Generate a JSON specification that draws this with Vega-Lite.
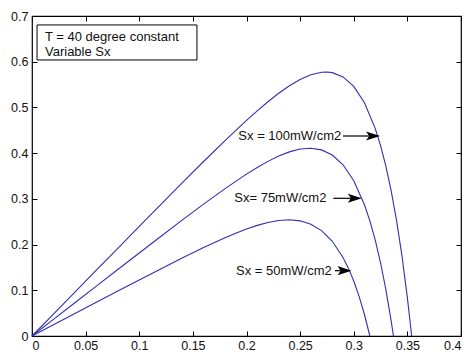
{
  "$schema": "https://vega.github.io/schema/vega-lite/v6.json",
  "width": 429,
  "height": 320,
  "autosize": "none",
  "padding": {"left": 32, "top": 16, "right": 5, "bottom": 16},
  "background": "white",
  "config": {
    "view": {"stroke": "#000", "strokeWidth": 1.2},
    "axis": {"domain": false, "grid": false, "tickColor": "#000", "tickSize": -5, "tickWidth": 1,
      "labelFont": "Liberation Sans", "labelFontSize": 12.5, "labelColor": "#111", "title": null}
  },
  "datasets": {
    "curves": [
      {"s": "100", "v": 0, "p": 0}, {"s": "100", "v": 0.02, "p": 0.048}, {"s": "100", "v": 0.04, "p": 0.096},
      {"s": "100", "v": 0.06, "p": 0.1439}, {"s": "100", "v": 0.08, "p": 0.1919}, {"s": "100", "v": 0.1, "p": 0.2397},
      {"s": "100", "v": 0.12, "p": 0.2874}, {"s": "100", "v": 0.14, "p": 0.3348}, {"s": "100", "v": 0.16, "p": 0.3817},
      {"s": "100", "v": 0.18, "p": 0.4276}, {"s": "100", "v": 0.2, "p": 0.4717}, {"s": "100", "v": 0.21, "p": 0.4926},
      {"s": "100", "v": 0.22, "p": 0.5125}, {"s": "100", "v": 0.23, "p": 0.5309}, {"s": "100", "v": 0.24, "p": 0.5473},
      {"s": "100", "v": 0.25, "p": 0.5612}, {"s": "100", "v": 0.26, "p": 0.5714}, {"s": "100", "v": 0.27, "p": 0.577},
      {"s": "100", "v": 0.275, "p": 0.5774}, {"s": "100", "v": 0.28, "p": 0.5761}, {"s": "100", "v": 0.29, "p": 0.5668},
      {"s": "100", "v": 0.3, "p": 0.5461}, {"s": "100", "v": 0.31, "p": 0.5103}, {"s": "100", "v": 0.32, "p": 0.4541},
      {"s": "100", "v": 0.325, "p": 0.4164}, {"s": "100", "v": 0.33, "p": 0.3709}, {"s": "100", "v": 0.335, "p": 0.3164},
      {"s": "100", "v": 0.34, "p": 0.2513}, {"s": "100", "v": 0.345, "p": 0.1747}, {"s": "100", "v": 0.35, "p": 0.084},
      {"s": "100", "v": 0.354, "p": 0},
      {"s": "75", "v": 0, "p": 0}, {"s": "75", "v": 0.02, "p": 0.0364}, {"s": "75", "v": 0.04, "p": 0.0728},
      {"s": "75", "v": 0.06, "p": 0.1091}, {"s": "75", "v": 0.08, "p": 0.1454}, {"s": "75", "v": 0.1, "p": 0.1816},
      {"s": "75", "v": 0.12, "p": 0.2177}, {"s": "75", "v": 0.14, "p": 0.2534}, {"s": "75", "v": 0.16, "p": 0.2884},
      {"s": "75", "v": 0.18, "p": 0.3224}, {"s": "75", "v": 0.2, "p": 0.3541}, {"s": "75", "v": 0.21, "p": 0.3687},
      {"s": "75", "v": 0.22, "p": 0.382}, {"s": "75", "v": 0.23, "p": 0.3936}, {"s": "75", "v": 0.24, "p": 0.4028},
      {"s": "75", "v": 0.25, "p": 0.4089}, {"s": "75", "v": 0.26, "p": 0.4108}, {"s": "75", "v": 0.27, "p": 0.4071},
      {"s": "75", "v": 0.28, "p": 0.3959}, {"s": "75", "v": 0.29, "p": 0.3746}, {"s": "75", "v": 0.3, "p": 0.3398},
      {"s": "75", "v": 0.31, "p": 0.2871}, {"s": "75", "v": 0.315, "p": 0.252}, {"s": "75", "v": 0.32, "p": 0.2101},
      {"s": "75", "v": 0.325, "p": 0.1602}, {"s": "75", "v": 0.33, "p": 0.101}, {"s": "75", "v": 0.335, "p": 0.0313},
      {"s": "75", "v": 0.337, "p": 0},
      {"s": "50", "v": 0, "p": 0}, {"s": "50", "v": 0.02, "p": 0.0246}, {"s": "50", "v": 0.04, "p": 0.0492},
      {"s": "50", "v": 0.06, "p": 0.0737}, {"s": "50", "v": 0.08, "p": 0.0982}, {"s": "50", "v": 0.1, "p": 0.1226},
      {"s": "50", "v": 0.12, "p": 0.1467}, {"s": "50", "v": 0.14, "p": 0.1705}, {"s": "50", "v": 0.16, "p": 0.1935},
      {"s": "50", "v": 0.18, "p": 0.2151}, {"s": "50", "v": 0.19, "p": 0.225}, {"s": "50", "v": 0.2, "p": 0.2341},
      {"s": "50", "v": 0.21, "p": 0.242}, {"s": "50", "v": 0.22, "p": 0.2484}, {"s": "50", "v": 0.23, "p": 0.2527},
      {"s": "50", "v": 0.24, "p": 0.2542}, {"s": "50", "v": 0.25, "p": 0.2519}, {"s": "50", "v": 0.26, "p": 0.2446},
      {"s": "50", "v": 0.27, "p": 0.2305}, {"s": "50", "v": 0.28, "p": 0.2073}, {"s": "50", "v": 0.29, "p": 0.1719},
      {"s": "50", "v": 0.295, "p": 0.1484}, {"s": "50", "v": 0.3, "p": 0.1203}, {"s": "50", "v": 0.305, "p": 0.0868},
      {"s": "50", "v": 0.31, "p": 0.047}, {"s": "50", "v": 0.315, "p": 0}
    ],
    "labels": [
      {"label": "Sx = 100mW/cm2", "tx": 0.1924, "y": 0.4375, "a0": 0.29, "head": 0.318},
      {"label": "Sx= 75mW/cm2", "tx": 0.1886, "y": 0.3012, "a0": 0.2809, "head": 0.301},
      {"label": "Sx = 50mW/cm2", "tx": 0.1902, "y": 0.1429, "a0": 0.2825, "head": 0.2914}
    ],
    "box": [{"x1": 0.0047, "x2": 0.1538, "y1": 0.6038, "y2": 0.6804}],
    "boxtext": [
      {"t": "T = 40 degree constant", "x": 0.0121, "y": 0.6548},
      {"t": "Variable Sx", "x": 0.0121, "y": 0.6213}
    ]
  },
  "layer": [
    {
      "data": {"name": "curves"},
      "mark": {"type": "line", "color": "#3030b0", "strokeWidth": 1.1},
      "encoding": {
        "x": {"field": "v", "type": "quantitative", "scale": {"domain": [0, 0.4], "nice": false},
          "axis": {"orient": "bottom", "values": [0, 0.05, 0.1, 0.15, 0.2, 0.25, 0.3, 0.35, 0.4], "format": "~g", "labelPadding": 8}},
        "y": {"field": "p", "type": "quantitative", "scale": {"domain": [0, 0.7], "nice": false},
          "axis": {"orient": "left", "values": [0, 0.1, 0.2, 0.3, 0.4, 0.5, 0.6, 0.7], "format": "~g", "labelPadding": 9}},
        "detail": {"field": "s"}
      }
    },
    {
      "data": {"name": "curves"},
      "mark": {"type": "point", "opacity": 0},
      "encoding": {
        "x": {"field": "v", "type": "quantitative", "axis": {"orient": "top", "values": [0, 0.05, 0.1, 0.15, 0.2, 0.25, 0.3, 0.35, 0.4], "labels": false}},
        "y": {"field": "p", "type": "quantitative", "axis": {"orient": "right", "values": [0, 0.1, 0.2, 0.3, 0.4, 0.5, 0.6, 0.7], "labels": false}}
      }
    },
    {
      "data": {"name": "box"},
      "mark": {"type": "rect", "fill": "white", "stroke": "#000", "strokeWidth": 1},
      "encoding": {
        "x": {"field": "x1", "type": "quantitative", "axis": null}, "x2": {"field": "x2"},
        "y": {"field": "y1", "type": "quantitative", "axis": null}, "y2": {"field": "y2"}
      }
    },
    {
      "data": {"name": "boxtext"},
      "mark": {"type": "text", "align": "left", "baseline": "middle", "font": "Liberation Sans", "fontSize": 13, "color": "#111"},
      "encoding": {
        "x": {"field": "x", "type": "quantitative", "axis": null},
        "y": {"field": "y", "type": "quantitative", "axis": null},
        "text": {"field": "t"}
      }
    },
    {
      "data": {"name": "labels"},
      "mark": {"type": "text", "align": "left", "baseline": "middle", "font": "Liberation Sans", "fontSize": 13, "color": "#111"},
      "encoding": {
        "x": {"field": "tx", "type": "quantitative", "axis": null},
        "y": {"field": "y", "type": "quantitative", "axis": null},
        "text": {"field": "label"}
      }
    },
    {
      "data": {"name": "labels"},
      "mark": {"type": "rule", "color": "#000", "strokeWidth": 1.2},
      "encoding": {
        "x": {"field": "a0", "type": "quantitative", "axis": null}, "x2": {"field": "head"},
        "y": {"field": "y", "type": "quantitative", "axis": null}
      }
    },
    {
      "data": {"name": "labels"},
      "mark": {"type": "point", "shape": "M1,0L-1,-0.65L-0.55,0L-1,0.65Z", "size": 196, "filled": true, "color": "#000", "opacity": 1},
      "encoding": {
        "x": {"field": "head", "type": "quantitative", "axis": null},
        "y": {"field": "y", "type": "quantitative", "axis": null}
      }
    }
  ],
  "resolve": {"axis": {"x": "independent", "y": "independent"}}
}
